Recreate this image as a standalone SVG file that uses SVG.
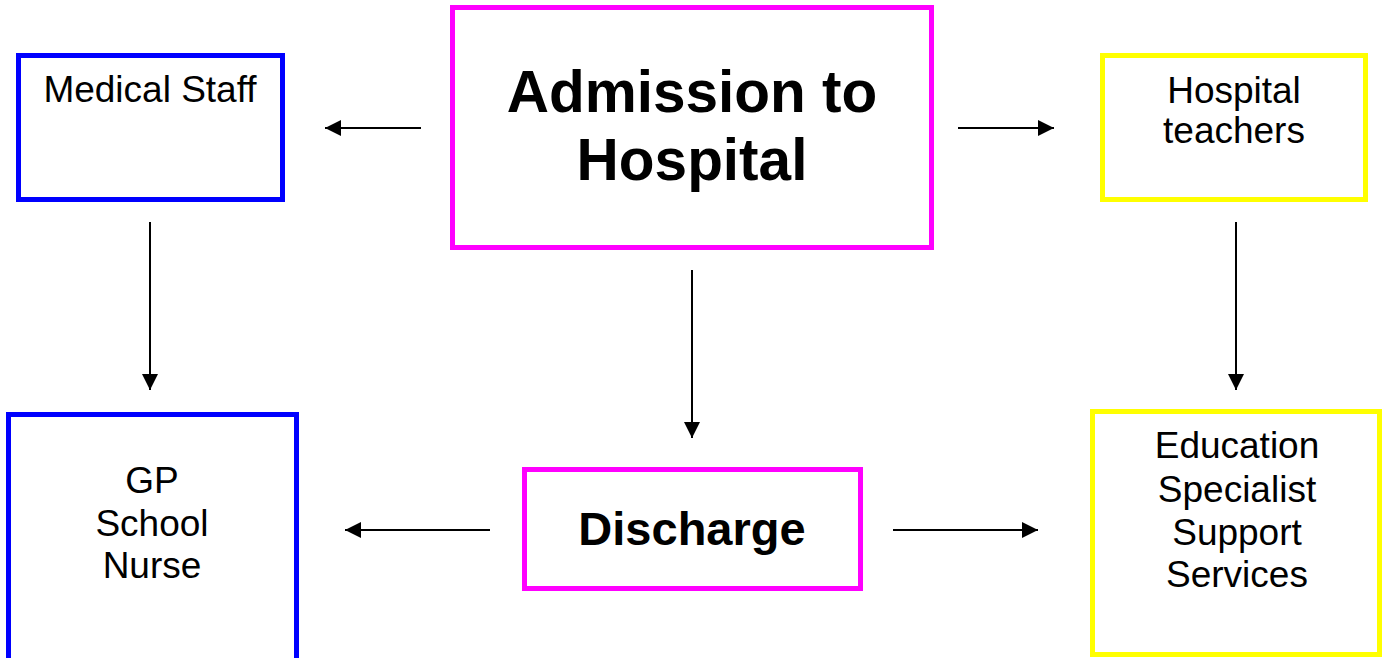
<svg xmlns="http://www.w3.org/2000/svg" width="1384" height="658" viewBox="0 0 1384 658">
<style>
.box{fill:#fff;stroke-width:5}
.blue{stroke:#0000ff}
.mag{stroke:#ff00ff}
.yel{stroke:#ffff00}
.t{font-family:"Liberation Sans",Arial,sans-serif;font-size:37px;fill:#000;text-anchor:middle}
.b{font-weight:bold}
.c{stroke:#000;stroke-width:2;fill:none;marker-end:url(#ah)}
</style>
<defs>
<marker id="ah" markerUnits="userSpaceOnUse" markerWidth="18" markerHeight="18" refX="16" refY="9" orient="auto">
<path d="M0,1 L16,9 L0,17 Z" fill="#000"/>
</marker>
</defs>
<rect width="1384" height="658" fill="#fff"/>
<g id="connectors">
<line class="c" x1="421" y1="128" x2="325" y2="128"/>
<line class="c" x1="958" y1="128" x2="1054" y2="128"/>
<line class="c" x1="150" y1="222" x2="150" y2="390"/>
<line class="c" x1="1236" y1="222" x2="1236" y2="390"/>
<line class="c" x1="692" y1="270" x2="692" y2="438"/>
<line class="c" x1="490" y1="530" x2="345" y2="530"/>
<line class="c" x1="893" y1="530" x2="1038" y2="530"/>
</g>
<g id="medical">
<rect class="box blue" x="18.5" y="55.5" width="264" height="144"/>
<text class="t" x="150" y="102">Medical Staff</text>
</g>
<g id="admission">
<rect class="box mag" x="452.5" y="7.5" width="479" height="240"/>
<text class="t b" x="692" y="112" style="font-size:58.5px">Admission to</text>
<text class="t b" x="692" y="180" style="font-size:58.5px">Hospital</text>
</g>
<g id="teachers">
<rect class="box yel" x="1102.5" y="55.5" width="263" height="144"/>
<text class="t" x="1234" y="103">Hospital</text>
<text class="t" x="1234" y="143">teachers</text>
</g>
<g id="gp">
<rect class="box blue" x="8.5" y="414.5" width="288" height="250"/>
<text class="t" x="152" y="493">GP</text>
<text class="t" x="152" y="536">School</text>
<text class="t" x="152" y="578">Nurse</text>
</g>
<g id="discharge">
<rect class="box mag" x="524.5" y="469.5" width="336" height="119"/>
<text class="t b" x="692" y="545" style="font-size:47px">Discharge</text>
</g>
<g id="education">
<rect class="box yel" x="1092.5" y="411.5" width="287" height="243"/>
<text class="t" x="1237" y="458">Education</text>
<text class="t" x="1237" y="502">Specialist</text>
<text class="t" x="1237" y="545">Support</text>
<text class="t" x="1237" y="587">Services</text>
</g>
</svg>
